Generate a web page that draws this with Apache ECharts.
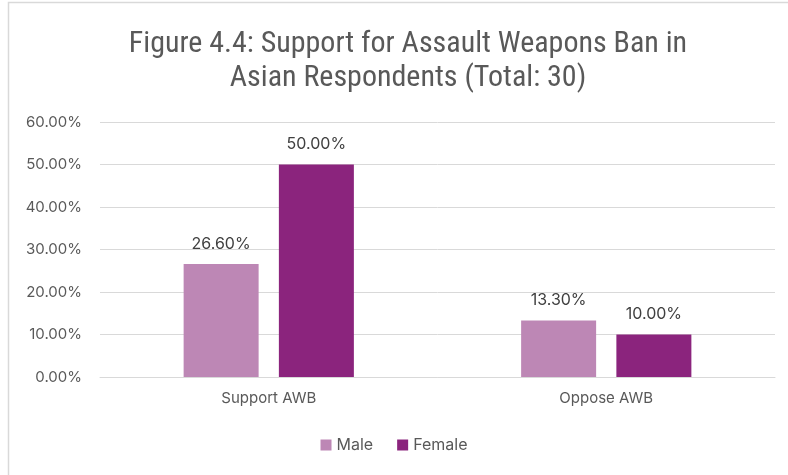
<!DOCTYPE html>
<html><head><meta charset="utf-8">
<script src="https://cdn.jsdelivr.net/npm/echarts@6/dist/echarts.min.js"></script>
<style>html,body{margin:0;padding:0;background:#fff;}#c{width:788px;height:475px;}</style>
</head><body><div id="c"></div>
<script>
const categories = ['Support AWB', 'Oppose AWB'];
const maleValues = [26.6, 13.3];
const femaleValues = [50.0, 10.0];
const yTicks = [0, 10, 20, 30, 40, 50, 60];

const chart = echarts.init(document.getElementById('c'));
const lbl = {show: true, position: 'top', distance: 12, color: '#404040', fontSize: 16, fontFamily: 'Inter, "Noto Sans", sans-serif', formatter: p => p.value.toFixed(2) + '%'};
chart.setOption({
  animation: false,
  graphic: [{type: 'rect', shape: {x: 8.5, y: 2.5, width: 800, height: 500}, style: {fill: 'none', stroke: '#d9d9d9', lineWidth: 1.5}}],
  title: {
    text: 'Figure 4.4: Support for Assault Weapons Ban in\nAsian Respondents (Total: 30)',
    left: 403, top: 22, textAlign: 'center',
    textStyle: {fontSize: 30, fontWeight: 'normal', color: '#595959', fontFamily: '"Liberation Sans Narrow", "Roboto Condensed", sans-serif', lineHeight: 34}
  },
  legend: {
    bottom: 17, left: 'center', itemWidth: 11, itemHeight: 11, itemGap: 24,
    icon: 'rect',
    textStyle: {fontSize: 16, color: '#595959', fontFamily: 'Inter, "Noto Sans", sans-serif'},
    data: ['Male', 'Female']
  },
  grid: {left: 100, right: 13, top: 122, bottom: 98},
  xAxis: {
    type: 'category', data: categories,
    axisTick: {show: false},
    axisLine: {lineStyle: {color: '#d9d9d9'}},
    axisLabel: {color: '#595959', fontSize: 15, margin: 14, fontFamily: 'Inter, "Noto Sans", sans-serif'}
  },
  yAxis: {
    type: 'value', min: yTicks[0], max: yTicks[yTicks.length - 1], interval: 10,
    axisLine: {show: false}, axisTick: {show: false},
    splitLine: {lineStyle: {color: '#d9d9d9', width: 1}},
    axisLabel: {color: '#595959', fontSize: 15, margin: 18, fontFamily: 'Inter, "Noto Sans", sans-serif', formatter: v => v.toFixed(2) + '%'}
  },
  series: [
    {name: 'Male', type: 'bar', data: maleValues, barWidth: 75, barGap: '27%', itemStyle: {color: '#BD87B5'}, label: lbl},
    {name: 'Female', type: 'bar', data: femaleValues, barWidth: 75, itemStyle: {color: '#8B247D'}, label: lbl}
  ]
});
</script></body></html>
